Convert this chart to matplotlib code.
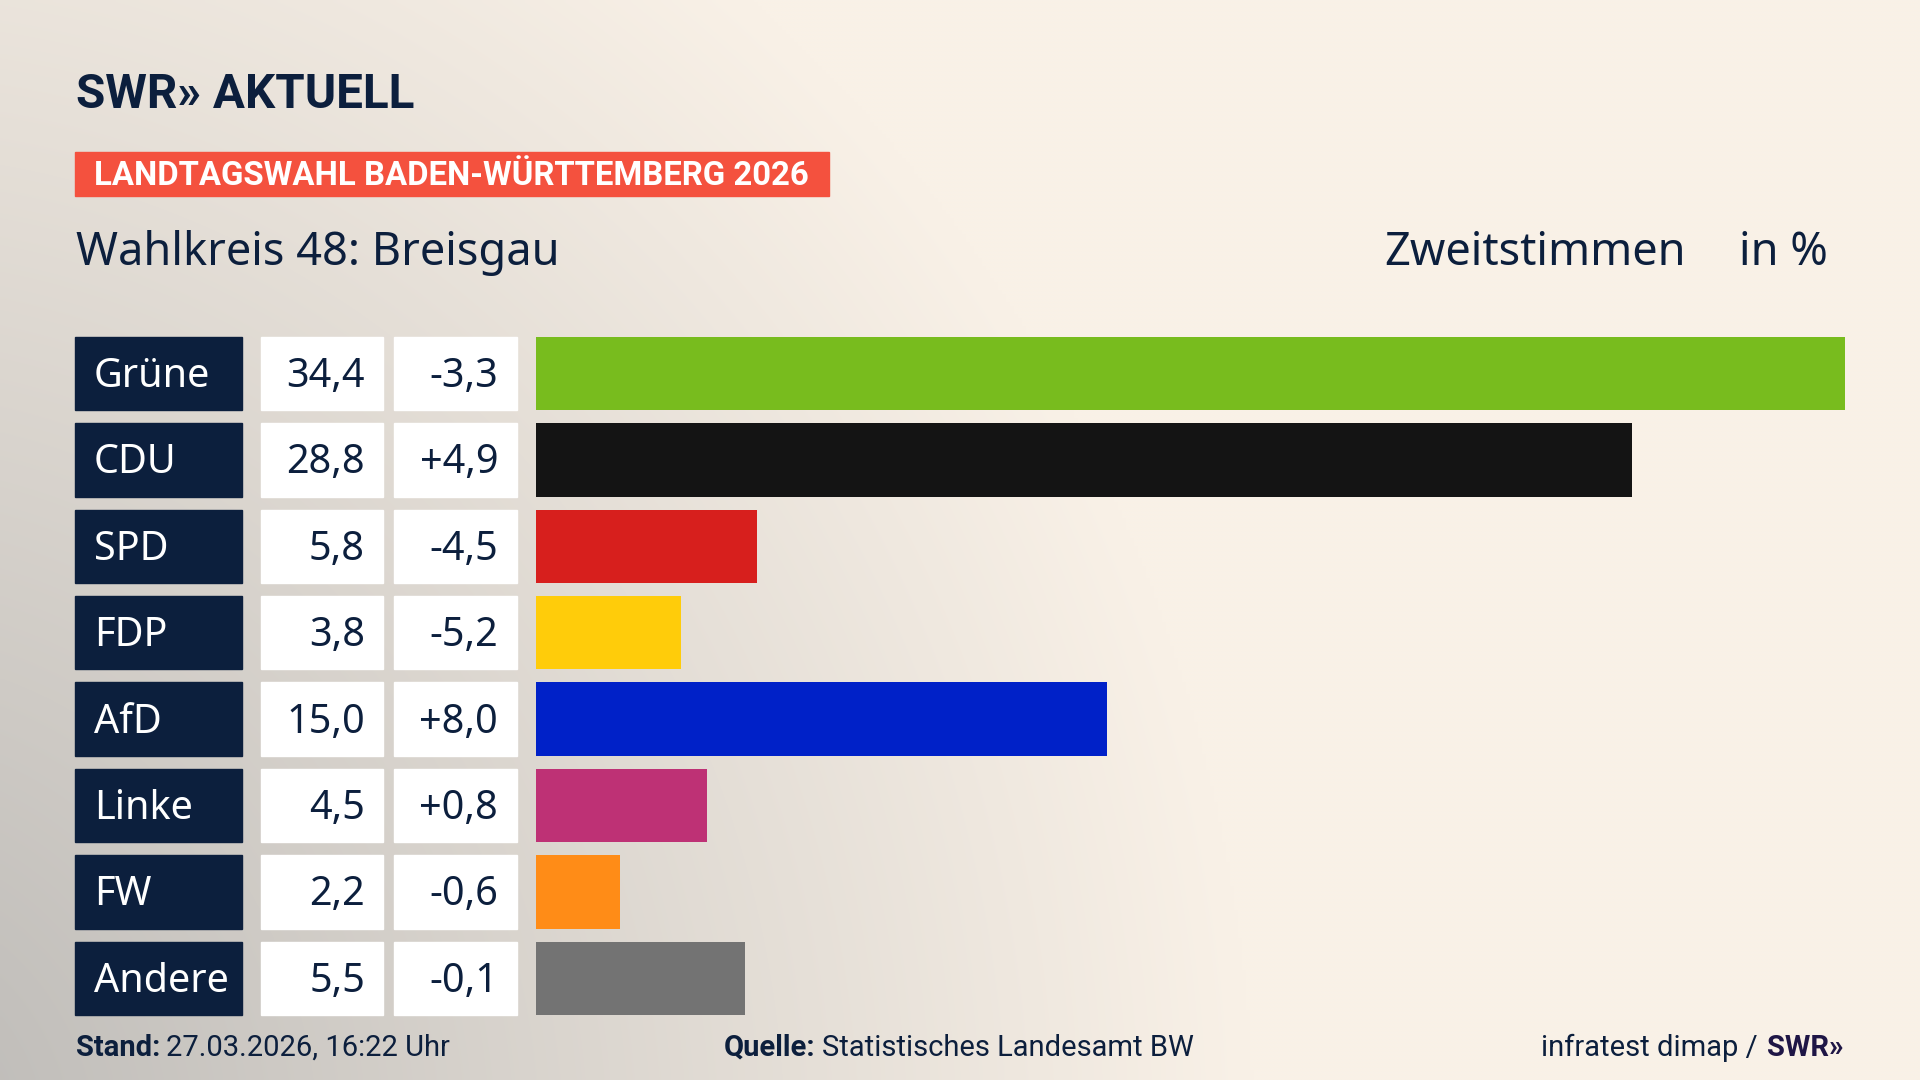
import numpy as np
import matplotlib
matplotlib.use("Agg")
import matplotlib.pyplot as plt
from matplotlib.patches import Rectangle
from matplotlib import font_manager as fm

# data
parties = ["Grüne", "CDU", "SPD", "FDP", "AfD", "Linke", "FW", "Andere"]
shares = [34.4, 28.8, 5.8, 3.8, 15.0, 4.5, 2.2, 5.5]
changes = [-3.3, 4.9, -4.5, -5.2, 8.0, 0.8, -0.6, -0.1]
bar_colors = ["#78BC1E", "#141414", "#D71F1D", "#FFCC0A",
              "#0021C8", "#BE3175", "#FF8C17", "#737373"]

title = "Wahlkreis 48: Breisgau"
banner = "LANDTAGSWAHL BADEN-WÜRTTEMBERG 2026"
vote_type = "Zweitstimmen"
unit = "in %"
stand = "27.03.2026, 16:22 Uhr"
quelle = "Statistisches Landesamt BW"
credit = "infratest dimap / "

NAVY = "#0C1F3D"
W, H = 1920, 1080

installed = {f.name for f in fm.fontManager.ttflist}
MAIN = ["Noto Sans", "DejaVu Sans"]
NARROW = ["Liberation Sans Narrow", "Roboto", "DejaVu Sans"] if "Liberation Sans Narrow" in installed \
    else ["Roboto", "DejaVu Sans"]

fig = plt.figure(figsize=(19.2, 10.8), dpi=100)

# background gradient (grey in lower left, cream elsewhere)
bg = fig.add_axes([0, 0, 1, 1])
bg.set_xlim(0, W)
bg.set_ylim(H, 0)
bg.axis("off")
yy, xx = np.mgrid[0:H:4, 0:W:4]
d = np.sqrt(((xx + 150) / 1400.0) ** 2 + ((1150 - yy) / 1500.0) ** 2)
w = np.clip(1 - d, 0, 1)[..., None]
cream = np.array([249, 241, 231]) / 255.0
grey = np.array([186, 184, 181]) / 255.0
img = cream * (1 - w) + grey * w
bg.imshow(img, extent=[0, W, H, 0], aspect="auto", interpolation="bilinear", zorder=0)

renderer = fig.canvas.get_renderer()


def px_width(t):
    return t.get_window_extent(renderer).width


def fit(t, target):
    t.set_fontsize(t.get_fontsize() * target / px_width(t))


# logo
logo = bg.text(76, 95, "SWR» AKTUELL", fontsize=38, fontweight="bold", family=NARROW,
               color=NAVY, va="center", ha="left")
fit(logo, 338)

# banner
bg.add_patch(Rectangle((75, 152), 754, 44, color="#F4513E", zorder=1))
bt = bg.text(94, 176, banner, fontsize=27, fontweight="bold", family=NARROW,
             color="white", va="center", ha="left", zorder=2)
fit(bt, 715)

# headline row
bg.text(76, 253, title, fontsize=32.5, family=MAIN, color=NAVY, va="center", ha="left")
bg.text(1384, 253, vote_type, fontsize=32.5, family=MAIN, color=NAVY, va="center", ha="left")
bg.text(1739, 253, unit, fontsize=32.5, family=MAIN, color=NAVY, va="center", ha="left")

# rows
n = len(parties)
pitch = 86.4
top = 336.7 - (pitch - 73.5) / 2
rows_bottom = 1 - (top + n * pitch) / H
rows_height = n * pitch / H
bar_left, bar_right = 536, 1845

ax = fig.add_axes([bar_left / W, rows_bottom, (bar_right - bar_left) / W, rows_height])
ax.patch.set_alpha(0)
ypos = np.arange(n)
ax.barh(ypos, shares, height=0.85, color=bar_colors)
ax.set_xlim(0, max(shares))
ax.set_ylim(n - 0.5, -0.5)
ax.axis("off")

tbl = fig.add_axes([0, rows_bottom, 1, rows_height], sharey=ax)
tbl.patch.set_alpha(0)
tbl.set_xlim(0, W)
tbl.axis("off")
for i, (p, s, c) in enumerate(zip(parties, shares, changes)):
    y0 = i - 0.425
    tbl.add_patch(Rectangle((75, y0), 167, 0.85, color=NAVY))
    tbl.add_patch(Rectangle((261, y0), 122, 0.85, color="white"))
    tbl.add_patch(Rectangle((394, y0), 123, 0.85, color="white"))
    tbl.text(94, i + 0.04, p, fontsize=28.5, family=MAIN, color="white", va="center", ha="left")
    tbl.text(365, i + 0.04, f"{s:.1f}".replace(".", ","), fontsize=28.5, family=MAIN,
             color=NAVY, va="center", ha="right")
    tbl.text(498, i + 0.04, f"{c:+.1f}".replace(".", ","), fontsize=28.5, family=MAIN,
             color=NAVY, va="center", ha="right")

# footer
fy = 1048
fs = 21
t1 = bg.text(76, fy, "Stand:", fontsize=fs, fontweight="bold", family=NARROW, color=NAVY,
             va="center", ha="left")
x1 = 76 + px_width(t1) + 6
bg.text(x1, fy, stand, fontsize=fs, family=NARROW, color=NAVY, va="center", ha="left")

t2 = bg.text(724, fy, "Quelle:", fontsize=fs, fontweight="bold", family=NARROW, color=NAVY,
             va="center", ha="left")
x2 = 724 + px_width(t2) + 6
bg.text(x2, fy, quelle, fontsize=fs, family=NARROW, color=NAVY, va="center", ha="left")

t3 = bg.text(1843, fy, "SWR»", fontsize=fs, fontweight="bold", family=NARROW, color="#1F1646",
             va="center", ha="right")
x3 = 1843 - px_width(t3) - 2
bg.text(x3, fy, credit, fontsize=fs, family=NARROW, color=NAVY, va="center", ha="right")

fig.savefig("out.png", dpi=100)
